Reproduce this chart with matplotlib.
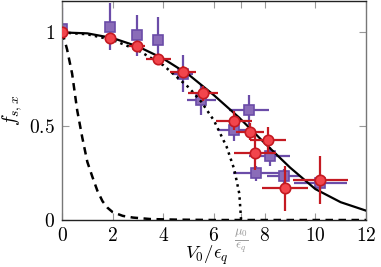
import matplotlib
matplotlib.use("Agg")
import matplotlib.pyplot as plt

plt.rcParams["mathtext.fontset"] = "cm"
plt.rcParams["font.family"] = "serif"
plt.rcParams["font.serif"] = ["cmr10", "DejaVu Serif"]

# measured points (red circles)
red_x = [0.0, 1.9, 2.96, 3.8, 4.78, 5.57, 6.8, 7.42, 8.13, 7.62, 8.8, 10.2]
red_y = [1.0, 0.97, 0.925, 0.856, 0.79, 0.675, 0.53, 0.47, 0.425, 0.356, 0.17, 0.213]
red_xerr = [0.0, 0.2, 0.3, 0.5, 0.5, 0.58, 0.72, 0.55, 0.7, 0.83, 0.9, 1.08]
red_yerr = [0.01, 0.02, 0.02, 0.03, 0.03, 0.04, 0.05, 0.045, 0.07, 0.09, 0.12, 0.13]

# measured points (purple squares)
pur_x = [0.0, 1.9, 2.96, 3.8, 4.78, 5.5, 6.8, 7.38, 8.2, 7.65, 8.76, 10.2]
pur_y = [1.02, 1.03, 0.985, 0.96, 0.78, 0.64, 0.48, 0.585, 0.34, 0.25, 0.234, 0.197]
pur_xerr = [0.0, 0.1, 0.15, 0.2, 0.4, 0.58, 0.65, 0.8, 0.8, 0.9, 0.65, 1.05]
pur_yerr = [0.11, 0.125, 0.11, 0.12, 0.1, 0.08, 0.06, 0.08, 0.05, 0.04, 0.04, 0.04]

# theory curves
solid_x = [0, 1, 2, 3, 4, 5, 6, 7, 8, 9, 10, 11, 12]
solid_y = [1.0, 0.995, 0.97, 0.925, 0.86, 0.775, 0.665, 0.545, 0.41, 0.28, 0.165, 0.095, 0.05]

dot_x = [0, 1, 2, 3, 4, 5, 5.5, 6, 6.5, 6.8, 7.0, 7.07]
dot_y = [1.0, 0.99, 0.96, 0.905, 0.825, 0.707, 0.63, 0.53, 0.39, 0.27, 0.14, 0.0]

dash_x = [0, 0.1, 0.2, 0.4, 0.6, 0.8, 1.0, 1.2, 1.4, 1.6, 1.8, 2.0, 2.4, 2.8, 3.5, 4.5, 6, 12]
dash_y = [1.0, 0.96, 0.91, 0.78, 0.585, 0.44, 0.31, 0.23, 0.155, 0.1, 0.065, 0.042,
          0.022, 0.013, 0.005, 0.002, 0.0, 0.0]

mu0 = 7.07
xticks = [0, 2, 4, 6, mu0, 8, 10, 12]
xticklabels = ["$0$", "$2$", "$4$", "$6$", r"$\frac{\mu_0}{\epsilon_q}$", "$8$", "$10$", "$12$"]
yticks = [0, 0.5, 1]
yticklabels = ["$0$", "$0.5$", "$1$"]

fig = plt.figure(figsize=(3.81, 2.67), dpi=100)
ax = fig.add_axes([0.1627, 0.176, 0.7979, 0.822])

ax.errorbar(pur_x, pur_y, xerr=pur_xerr, yerr=pur_yerr, fmt="s", ms=6.5,
            color="#6b4ca8", mfc="#8a6cb8", mec="#6b4ca8", mew=1.2,
            elinewidth=1.6, capsize=0, zorder=2)
ax.plot(solid_x, solid_y, "-", color="black", lw=1.6, zorder=3)
ax.plot(dot_x, dot_y, ":", color="black", lw=1.8, zorder=3)
ax.plot(dash_x, dash_y, "--", color="black", lw=1.8, dashes=(3, 2.2), zorder=3)
ax.errorbar(red_x, red_y, xerr=red_xerr, yerr=red_yerr, fmt="o", ms=7.5,
            color="#c41a22", mfc="#f2454c", mec="#c41a22", mew=1.2,
            elinewidth=1.6, capsize=0, zorder=4)

ax.set_xlim(0, 12)
ax.set_ylim(0, 1.17)
ax.set_xticks(xticks)
ax.set_xticklabels(xticklabels, fontsize=14)
ax.set_yticks(yticks)
ax.set_yticklabels(yticklabels, fontsize=14)
ax.get_xticklabels()[4].set_color("#999999")
ax.get_xticklabels()[4].set_fontsize(13)

ax.tick_params(direction="in", length=5, width=0.8, color="#999999",
               top=True, right=True, pad=5)
for side in ["left", "right"]:
    ax.spines[side].set_color("#777777")
for side in ["top", "bottom"]:
    ax.spines[side].set_color("#222222")
for sp in ax.spines.values():
    sp.set_linewidth(1.0)

ax.set_xlabel(r"$V_0/\epsilon_q$", fontsize=13.5)
ax.xaxis.set_label_coords(0.475, -0.107)
ax.set_ylabel(r"$f_{s,x}$", fontsize=14, labelpad=4)

fig.savefig("out.png", dpi=100)
